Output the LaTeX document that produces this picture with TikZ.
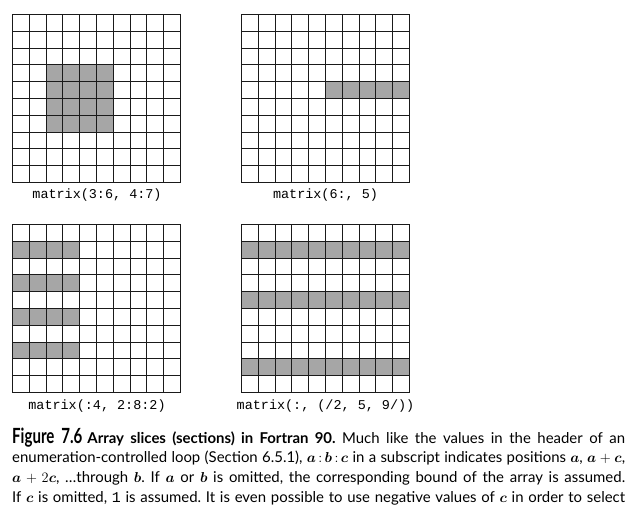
\documentclass[tikz,border=0pt]{standalone}
\usepackage{amsmath}
\usepackage{fontspec}
\usepackage{graphicx}
\setmainfont{Lato}
\setmonofont{Liberation Mono}
\definecolor{cellgray}{HTML}{A6A6A6}
\definecolor{gridink}{HTML}{1A1A1A}
\tikzset{
  gridline/.style={line width=1.6bp, draw=gridink, line cap=rect},
  lbl/.style={font=\fontsize{13.5}{16}\selectfont\ttfamily, inner sep=0pt, anchor=base},
  captionnode/.style={inner sep=0pt, anchor=base west},
}
\def\cs{16.8}
\newcommand\mv[1]{\boldsymbol{#1}}
\newcommand\cellsfill[6]{\fill[cellgray] ({round(#1+(#3-1)*\cs)+0.5},{round(#2+(#5-1)*\cs)+0.5}) rectangle ({round(#1+#4*\cs)+0.5},{round(#2+#6*\cs)+0.5});}
\newcommand\gridat[2]{\foreach \i in {0,...,10}{%
  \draw[gridline] ({round(#1+\i*\cs)+0.5},{round(#2)+0.5}) -- ({round(#1+\i*\cs)+0.5},{round(#2+10*\cs)+0.5});
  \draw[gridline] ({round(#1)+0.5},{round(#2+\i*\cs)+0.5}) -- ({round(#1+10*\cs)+0.5},{round(#2+\i*\cs)+0.5});}}
\begin{document}
\begin{tikzpicture}[x=1bp,y=-1bp]
\useasboundingbox[fill=white] (0,0) rectangle (638,513);
% grid 1
\cellsfill{12}{14}{3}{6}{4}{7}
\gridat{12}{14}
\node[lbl] (l1) at (97,199) {matrix(3:6, 4:7)};
% grid 2
\cellsfill{241}{14}{6}{10}{5}{5}
\gridat{241}{14}
\node[lbl] (l2) at (325.5,199) {matrix(6:, 5)};
% grid 3
\cellsfill{12}{224}{1}{4}{2}{2}
\cellsfill{12}{224}{1}{4}{4}{4}
\cellsfill{12}{224}{1}{4}{6}{6}
\cellsfill{12}{224}{1}{4}{8}{8}
\gridat{12}{224}
\node[lbl] (l3) at (97,409) {matrix(:4, 2:8:2)};
% grid 4
\cellsfill{241}{224}{1}{10}{2}{2}
\cellsfill{241}{224}{1}{10}{5}{5}
\cellsfill{241}{224}{1}{10}{9}{9}
\gridat{241}{224}
\node[lbl] (l4) at (325.5,409) {matrix(:, (/2, 5, 9/))};
% caption
\node[captionnode] (cap) at (12,443) {\parbox[t]{613bp}{\fontsize{15}{20}\selectfont\frenchspacing\parfillskip=0pt\parindent=0pt
{\fontsize{21}{20}\selectfont\bfseries\scalebox{0.72}[1]{Figure}\hspace{7pt}\scalebox{0.72}[1]{7.6}}\hspace{5pt}{\bfseries Array slices (sections) in Fortran 90.} Much like the values in the header of an\linebreak
enumeration-controlled loop (Section 6.5.1), $\mv{a}\,{:}\,\mv{b}\,{:}\,\mv{c}$ in a subscript indicates positions $\mv{a}$, $\mv{a}+\mv{c}$,\linebreak
$\mv{a}+2\mv{c}$, \ldots through $\mv{b}$. If $\mv{a}$ or $\mv{b}$ is omitted, the corresponding bound of the array is assumed.\linebreak
If $\mv{c}$ is omitted, \texttt{1} is assumed. It is even possible to use negative values of $\mv{c}$ in order to select}};
\end{tikzpicture}
\end{document}
